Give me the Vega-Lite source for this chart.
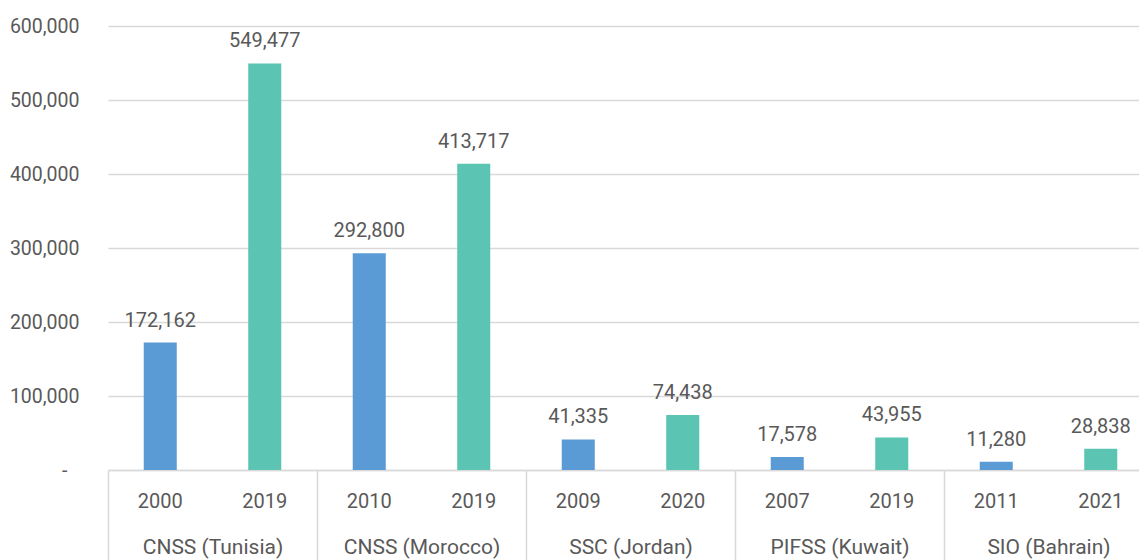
{
  "$schema": "https://vega.github.io/schema/vega-lite/v6.json",
  "autosize": {"type": "none"},
  "padding": {"left": 108, "top": 26, "right": 0, "bottom": 90},
  "width": 1031,
  "height": 444,
  "config": {
    "font": "Roboto",
    "view": {"stroke": null},
    "axis": {"labelFont": "Roboto", "labelColor": "#595959", "labelFontSize": 19.5}
  },
  "data": {
    "values": [
      {"key": "CNSS (Tunisia)|2000", "group": "CNSS (Tunisia)", "year": "2000", "period": "first", "value": 172162},
      {"key": "CNSS (Tunisia)|2019", "group": "CNSS (Tunisia)", "year": "2019", "period": "second", "value": 549477},
      {"key": "CNSS (Morocco)|2010", "group": "CNSS (Morocco)", "year": "2010", "period": "first", "value": 292800},
      {"key": "CNSS (Morocco)|2019", "group": "CNSS (Morocco)", "year": "2019", "period": "second", "value": 413717},
      {"key": "SSC (Jordan)|2009", "group": "SSC (Jordan)", "year": "2009", "period": "first", "value": 41335},
      {"key": "SSC (Jordan)|2020", "group": "SSC (Jordan)", "year": "2020", "period": "second", "value": 74438},
      {"key": "PIFSS (Kuwait)|2007", "group": "PIFSS (Kuwait)", "year": "2007", "period": "first", "value": 17578},
      {"key": "PIFSS (Kuwait)|2019", "group": "PIFSS (Kuwait)", "year": "2019", "period": "second", "value": 43955},
      {"key": "SIO (Bahrain)|2011", "group": "SIO (Bahrain)", "year": "2011", "period": "first", "value": 11280},
      {"key": "SIO (Bahrain)|2021", "group": "SIO (Bahrain)", "year": "2021", "period": "second", "value": 28838}
    ]
  },
  "layer": [
    {
      "encoding": {
        "x": {
          "field": "key", "type": "nominal", "sort": null,
          "scale": {"range": [0, 1045], "paddingInner": 0.684, "paddingOuter": 0.342},
          "axis": {
            "orient": "bottom", "title": null, "labelAngle": 0, "ticks": false,
            "domain": true, "domainColor": "#d9d9d9", "domainWidth": 1.5,
            "labelPadding": 21, "labelFontSize": 20, "labelExpr": "split(datum.value, '|')[1]"
          }
        },
        "y": {
          "field": "value", "type": "quantitative",
          "scale": {"domain": [0, 600000], "nice": false},
          "axis": {
            "title": null, "values": [0, 100000, 200000, 300000, 400000, 500000, 600000],
            "domain": false, "ticks": false, "grid": true, "gridColor": "#d9d9d9", "gridWidth": 1.5,
            "labelPadding": {"condition": {"test": "datum.value == 0", "value": 41}, "value": 29},
            "labelExpr": "datum.value == 0 ? '-' : format(datum.value, ',')"
          }
        }
      },
      "layer": [
        {
          "mark": {"type": "bar"},
          "encoding": {
            "color": {
              "field": "period", "type": "nominal",
              "scale": {"domain": ["first", "second"], "range": ["#5b9bd5", "#5bc4b2"]},
              "legend": null
            }
          }
        },
        {
          "mark": {"type": "text", "baseline": "bottom", "dy": -12, "fontSize": 20, "color": "#595959", "font": "Roboto"},
          "encoding": {
            "text": {"field": "value", "type": "quantitative", "format": ","}
          }
        }
      ]
    },
    {
      "mark": {"type": "text", "opacity": 0},
      "encoding": {
        "x": {
          "field": "group", "type": "nominal", "sort": null,
          "scale": {"range": [0, 1045], "paddingInner": 0, "paddingOuter": 0},
          "axis": {
            "orient": "bottom", "title": null, "labelAngle": 0, "domain": false,
            "ticks": true, "tickBand": "extent", "tickSize": 95, "tickColor": "#d9d9d9", "tickWidth": 1.5,
            "labelPadding": -29, "labelFontSize": 21
          }
        },
        "y": {"field": "value", "type": "quantitative"},
        "text": {"value": ""}
      }
    }
  ],
  "resolve": {"scale": {"x": "independent"}, "axis": {"x": "independent"}}
}
